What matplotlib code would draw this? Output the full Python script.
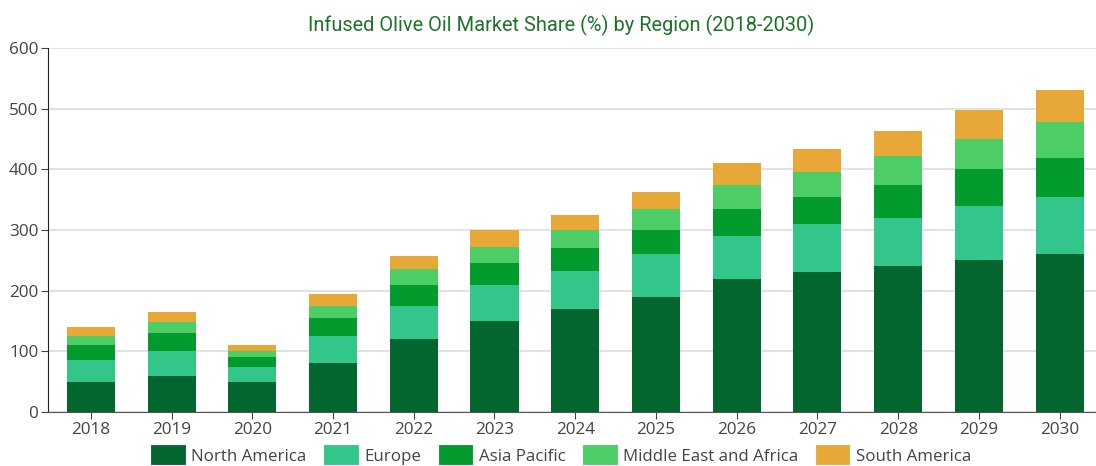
import matplotlib
matplotlib.use("Agg")
import matplotlib.pyplot as plt
from matplotlib.patches import Patch
import numpy as np

years = ["2018", "2019", "2020", "2021", "2022", "2023", "2024",
         "2025", "2026", "2027", "2028", "2029", "2030"]
north_america = [50, 60, 50, 80, 120, 150, 170, 190, 220, 230, 240, 250, 260]
europe = [35, 40, 25, 45, 55, 60, 62, 70, 70, 80, 80, 90, 95]
asia_pacific = [25, 30, 15, 30, 35, 35, 38, 40, 45, 45, 55, 60, 63]
middle_east_africa = [15, 18, 10, 20, 25, 27, 30, 35, 40, 40, 47, 50, 60]
south_america = [15, 17, 10, 20, 22, 28, 25, 27, 35, 39, 41, 47, 53]

series_names = ["North America", "Europe", "Asia Pacific",
                "Middle East and Africa", "South America"]
series_values = [north_america, europe, asia_pacific,
                 middle_east_africa, south_america]
colors = ["#03662f", "#33c68a", "#039a2e", "#4ccd66", "#e8a838"]

fig = plt.figure(figsize=(10.96, 4.66), dpi=100)
ax = fig.add_axes([48 / 1096, 1 - 412 / 466, 1 - 48 / 1096, 364 / 466])

x = np.arange(len(years))
bottom = np.zeros(len(years))
for name, vals, c in zip(series_names, series_values, colors):
    ax.bar(x, vals, width=0.595, bottom=bottom, color=c, label=name, zorder=3)
    bottom += np.array(vals)

ax.set_ylim(0, 600)
ax.set_xlim(-0.53, 12.45)
ax.set_yticks(range(0, 601, 100))
ax.set_xticks(x)
ax.set_xticklabels(years)
ax.grid(axis="y", color="#dddddd", linewidth=1.2, zorder=0)
ax.grid(axis="x", visible=False)
for s in ["top", "right"]:
    ax.spines[s].set_visible(False)
ax.spines["left"].set_color("#222222")
ax.spines["bottom"].set_color("#555555")
ax.tick_params(axis="both", labelsize=12.3, colors="#444444", length=5,
               labelfontfamily="Open Sans")
ax.tick_params(axis="x", pad=2)
ax.tick_params(axis="y", pad=2)

fig.text(0.512, 1 - 25 / 466, "Infused Olive Oil Market Share (%) by Region (2018-2030)",
         ha="center", va="center", fontsize=14.4, color="#1d7327", family="Roboto")

handles = [Patch(facecolor=c, edgecolor=c, linewidth=3.5, joinstyle="round", label=n)
           for n, c in zip(series_names, colors)]
fig.legend(handles=handles, loc="center", bbox_to_anchor=(0.513, 1 - 456 / 466),
           ncol=5, frameon=False, prop={"family": "Open Sans", "size": 12.2},
           handlelength=1.75, handleheight=1.0, columnspacing=1.15, handletextpad=0.5,
           labelcolor="#444444", borderpad=0.2)

fig.savefig("out.png", dpi=100)
